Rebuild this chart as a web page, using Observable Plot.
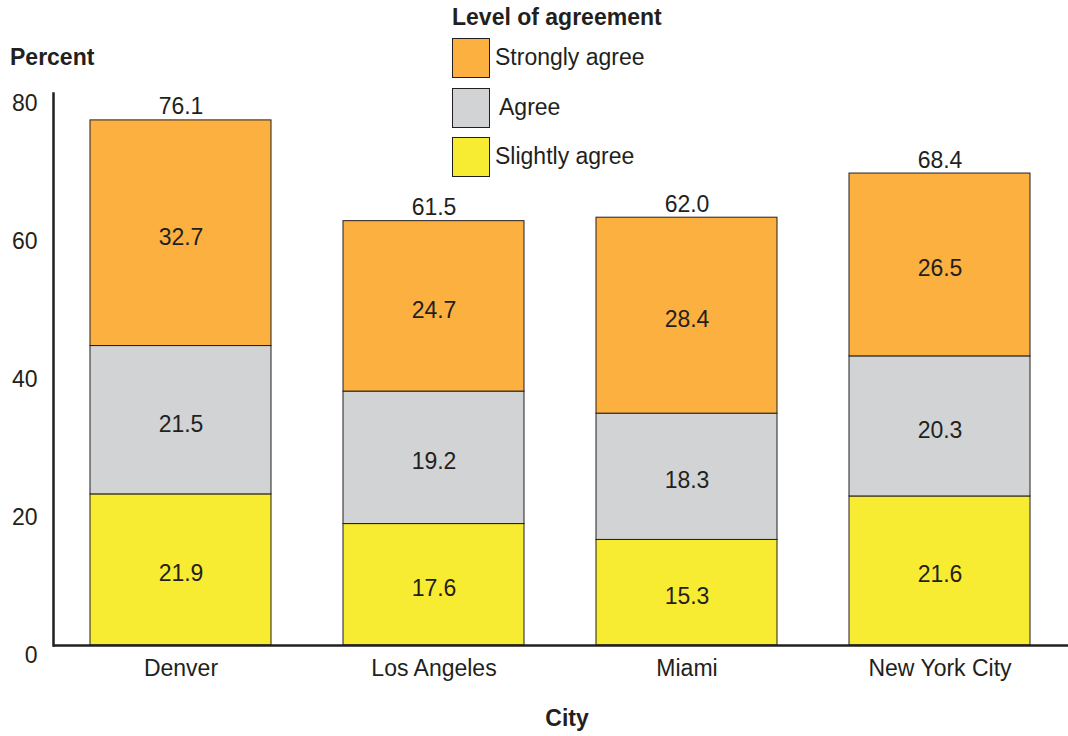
<!DOCTYPE html>
<html>
<head>
<meta charset="utf-8">
<script src="https://cdn.jsdelivr.net/npm/d3@7"></script>
<script src="https://cdn.jsdelivr.net/npm/@observablehq/plot@0.6"></script>
<style>
  html, body { margin: 0; padding: 0; background: #fff; }
  body { position: relative; width: 1068px; height: 736px; overflow: hidden;
         font-family: "Liberation Sans", Arial, sans-serif; color: #231f20; }
  #chart { position: absolute; left: 0; top: 0; }
  .lbl { position: absolute; font-size: 23px; white-space: nowrap; line-height: 1; }
  .bold { font-weight: bold; }
  .sw { position: absolute; width: 36px; height: 38px; border: 1.3px solid #231f20; }
</style>
</head>
<body>
<div id="chart"></div>
<div class="lbl bold" style="left:10px; top:46px;">Percent</div>
<div class="lbl bold" id="xlabel" style="left:567px; top:707px; transform:translateX(-50%);">City</div>
<div id="legend"></div>
<script>
const cities = ["Denver", "Los Angeles", "Miami", "New York City"];
const levels = ["Slightly agree", "Agree", "Strongly agree"];
const slightlyAgree = [21.9, 17.6, 15.3, 21.6];
const agree = [21.5, 19.2, 18.3, 20.3];
const stronglyAgree = [32.7, 24.7, 28.4, 26.5];
const totals = [76.1, 61.5, 62.0, 68.4];
const yTicks = [0, 20, 40, 60, 80];
const colors = ["#F7EC31", "#D1D3D4", "#FBB040"];
const legendTitle = "Level of agreement";
const legendOrder = ["Strongly agree", "Agree", "Slightly agree"];

const series = [slightlyAgree, agree, stronglyAgree];
const data = cities.flatMap((c, i) => levels.map((l, j) => ({city: c, level: l, value: series[j][i]})));
const totalData = cities.map((c, i) => ({city: c, total: totals[i]}));

const ink = "#231f20";
const fs = 23;
const chart = Plot.plot({
  width: 1068,
  height: 736,
  marginLeft: 53,
  marginRight: 0,
  marginTop: 93,
  marginBottom: 91,
  style: {fontFamily: "'Liberation Sans', Arial, sans-serif", fontSize: fs + "px", color: ink, background: "#fff"},
  x: {domain: cities, paddingInner: 0.283, paddingOuter: 0.14, label: null},
  y: {domain: [0, 80], label: null},
  color: {domain: levels, range: colors},
  marks: [
    Plot.barY(data, Plot.stackY({x: "city", y: "value", fill: "level", order: levels, stroke: ink, strokeWidth: 1})),
    Plot.text(data, Plot.stackY({x: "city", y: "value", z: "level", order: levels,
      text: d => d.value.toFixed(1), fill: ink, fontSize: fs, dy: 4})),
    Plot.text(totalData, {x: "city", y: "total", text: d => d.total.toFixed(1),
      lineAnchor: "bottom", dy: -6, fill: ink, fontSize: fs}),
    Plot.axisY({ticks: yTicks, tickSize: 0, tickPadding: 16, dy: 10, fontSize: fs, label: null, tickFormat: d => d}),
    Plot.axisX({tickSize: 0, tickPadding: 14, fontSize: fs, label: null}),
    Plot.frame({anchor: "left", stroke: ink, strokeWidth: 2.5}),
    Plot.ruleY([0], {stroke: ink, strokeWidth: 2.5})
  ]
});
document.getElementById("chart").append(chart);

// Legend
const legend = document.getElementById("legend");
const title = document.createElement("div");
title.className = "lbl bold";
title.style.left = "452px";
title.style.top = "6px";
title.textContent = legendTitle;
legend.append(title);
const swTops = [38, 88, 137];
const txtLeft = [495, 499, 495];
legendOrder.forEach((l, k) => {
  const sw = document.createElement("div");
  sw.className = "sw";
  sw.style.left = "452px";
  sw.style.top = swTops[k] + "px";
  sw.style.background = colors[levels.indexOf(l)];
  legend.append(sw);
  const t = document.createElement("div");
  t.className = "lbl";
  t.style.left = txtLeft[k] + "px";
  t.style.top = (swTops[k] + 8) + "px";
  t.textContent = l;
  legend.append(t);
});
</script>
</body>
</html>
